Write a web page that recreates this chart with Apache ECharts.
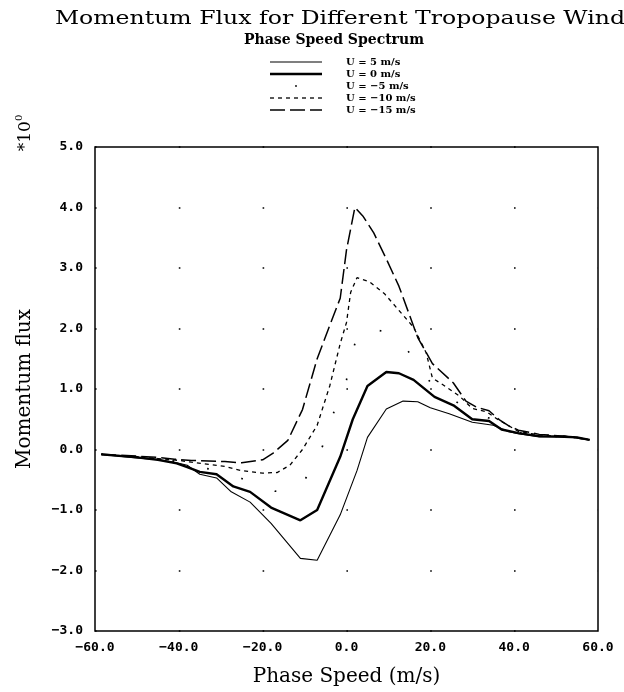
<!DOCTYPE html>
<html>
<head>
<meta charset="utf-8">
<script src="https://cdn.jsdelivr.net/npm/echarts@6/dist/echarts.min.js"></script>
<style>
html,body{margin:0;padding:0;background:#fff;}
#chart{width:624px;height:692px;}
</style>
</head>
<body>
<div id="chart"></div>
<script>
// ---- data ----
const titleText = "Momentum Flux for Different Tropopause Winds";
const subtitleText = "Phase Speed Spectrum";
const seriesNames = ["U = 5 m/s", "U = 0 m/s", "U = \u22125 m/s", "U = \u221210 m/s", "U = \u221215 m/s"];
const xTicks = [-60, -40, -20, 0, 20, 40, 60];
const yTicks = [-3, -2, -1, 0, 1, 2, 3, 4, 5];

const u5X = [-58.5,-50,-45,-41,-38,-35,-31,-27.5,-23,-18,-11,-7,-1.5,2.5,5,9.5,13.5,17,20,24.5,30,35,38.5,41,46,52,55,58];
const u5Y = [-0.08,-0.14,-0.17,-0.21,-0.26,-0.41,-0.47,-0.70,-0.87,-1.22,-1.80,-1.83,-1.08,-0.35,0.20,0.67,0.80,0.79,0.69,0.59,0.45,0.40,0.30,0.26,0.21,0.22,0.20,0.16];

const u0X = [-58.5,-50,-45,-40.5,-38,-35,-31,-27,-23,-18,-11,-7,-1.5,1.5,5,9.5,12.5,16,21,25.5,30,34,37,41,46,52,55,58];
const u0Y = [-0.08,-0.13,-0.17,-0.23,-0.29,-0.37,-0.41,-0.61,-0.70,-0.96,-1.17,-1.00,-0.12,0.50,1.05,1.28,1.26,1.15,0.87,0.73,0.50,0.47,0.33,0.27,0.22,0.21,0.20,0.16];

const um5X = [-58.5,-50,-45,-40,-35,-30,-25,-21,-17,-13,-10,-7,-4,-1.5,0,2.5,5,9,13,17,20.5,25,30,35,38,41,46,52,58];
const um5Y = [-0.08,-0.12,-0.16,-0.20,-0.30,-0.35,-0.48,-0.59,-0.69,-0.68,-0.50,-0.20,0.40,0.95,1.15,1.90,2.00,1.95,1.75,1.45,1.05,0.85,0.60,0.50,0.36,0.28,0.23,0.21,0.16];

const um10X = [-58.5,-50,-45,-40,-37,-29,-25,-20,-16.5,-13.5,-10.5,-7,-4,-1.5,0,1,2.5,5.5,9,12.5,16,19,20.5,23,27,30,33.5,36,38.5,41,46,52,58];
const um10Y = [-0.08,-0.12,-0.15,-0.18,-0.21,-0.28,-0.35,-0.39,-0.38,-0.26,0.00,0.40,1.05,1.75,2.10,2.60,2.84,2.77,2.58,2.30,2.02,1.60,1.18,1.07,0.88,0.68,0.62,0.50,0.40,0.30,0.24,0.22,0.16];

const um15X = [-58.5,-50,-45,-41,-37,-29,-25,-20,-17.5,-14,-10.5,-7,-4,-1.5,0,2,4,6.5,9.5,12.5,17,20.5,25.5,28.5,31,34,36.5,39,41,46,52,58];
const um15Y = [-0.08,-0.11,-0.13,-0.16,-0.18,-0.20,-0.22,-0.17,-0.06,0.15,0.66,1.50,2.05,2.50,3.30,4.00,3.85,3.58,3.15,2.70,1.85,1.42,1.10,0.80,0.70,0.64,0.49,0.38,0.32,0.25,0.22,0.16];

// ---- chart ----
const pairs = (xs, ys) => xs.map((x, i) => [x, ys[i]]);
const fmt = v => v.toFixed(1).replace('-', '\u2212');

const styles = [
  {width: 1.1, type: 'solid'},
  {width: 2.4, type: 'solid'},
  {width: 1.7, type: [1.7, 34]},
  {width: 1.3, type: [4, 4]},
  {width: 1.5, type: [15, 5]}
];
const datasets = [pairs(u5X,u5Y), pairs(u0X,u0Y), pairs(um5X,um5Y), pairs(um10X,um10Y), pairs(um15X,um15Y)];

const chart = echarts.init(document.getElementById('chart'), null, {renderer: 'canvas'});

const legendGraphics = [];
seriesNames.forEach((name, i) => {
  const y = 62 + i * 12;
  if (i === 2) {
    legendGraphics.push({
      type: 'circle', silent: true, shape: {cx: 296, cy: y, r: 0.9}, style: {fill: '#000'}
    });
  } else {
    legendGraphics.push({
      type: 'line', silent: true,
      shape: {x1: 270, y1: y, x2: 322, y2: y},
      style: {stroke: '#000', lineWidth: styles[i].width, lineDash: styles[i].type === 'solid' ? null : styles[i].type}
    });
  }
  legendGraphics.push({
    type: 'text', silent: true, x: 346, y: y,
    style: {text: name, font: 'bold 10px "DejaVu Serif"', fill: '#000', verticalAlign: 'middle', textAlign: 'left'}
  });
});

const option = {
  backgroundColor: '#fff',
  animation: false,
  grid: {left: 95, right: 26, top: 147, bottom: 57, show: true, borderColor: '#000', borderWidth: 1.5, backgroundColor: 'transparent'},
  xAxis: {
    type: 'value', min: -60, max: 60, interval: 20,
    name: 'Phase Speed (m/s)', nameLocation: 'middle', nameGap: 36,
    nameTextStyle: {fontFamily: 'DejaVu Serif', fontSize: 20, color: '#000'},
    axisLine: {show: false}, axisTick: {show: false},
    axisLabel: {formatter: fmt, fontFamily: 'DejaVu Sans Mono', fontWeight: 'bold', fontSize: 13, color: '#000', margin: 10},
    splitLine: {show: false}
  },
  yAxis: {
    type: 'value', min: -3, max: 5, interval: 1,
    name: 'Momentum flux', nameLocation: 'middle', nameGap: 60, nameRotate: 90,
    nameTextStyle: {fontFamily: 'DejaVu Serif', fontSize: 20, color: '#000'},
    axisLine: {show: false}, axisTick: {show: false},
    axisLabel: {formatter: fmt, fontFamily: 'DejaVu Sans Mono', fontWeight: 'bold', fontSize: 13, color: '#000', margin: 12},
    splitLine: {show: true, lineStyle: {color: '#000', width: 1.6, type: [1.6, 82.2]}}
  },
  graphic: [
    {type: 'text', silent: true, x: 346, y: 19, scaleX: 1.24,
     style: {text: titleText, font: '19px "DejaVu Serif"', fill: '#000', textAlign: 'center', verticalAlign: 'middle'}},
    {type: 'text', silent: true, x: 334, y: 40,
     style: {text: subtitleText, font: 'bold 14px "DejaVu Serif"', fill: '#000', textAlign: 'center', verticalAlign: 'middle'}},
    {type: 'text', silent: true, x: 24, y: 133, rotation: Math.PI / 2,
     style: {text: '{a|*10}{b|0}', textAlign: 'center', verticalAlign: 'middle',
       rich: {a: {font: '17px "DejaVu Serif"', fill: '#000', verticalAlign: 'bottom'}, b: {font: '10px "DejaVu Serif"', fill: '#000', verticalAlign: 'top', padding: [0,0,10,0]}}}},
    ...legendGraphics
  ],
  series: datasets.map((d, i) => ({
    name: seriesNames[i], type: 'line', data: d, showSymbol: false, symbol: 'none',
    lineStyle: {color: '#000', width: styles[i].width, type: styles[i].type},
    z: 3
  }))
};
chart.setOption(option);
</script>
</body>
</html>
